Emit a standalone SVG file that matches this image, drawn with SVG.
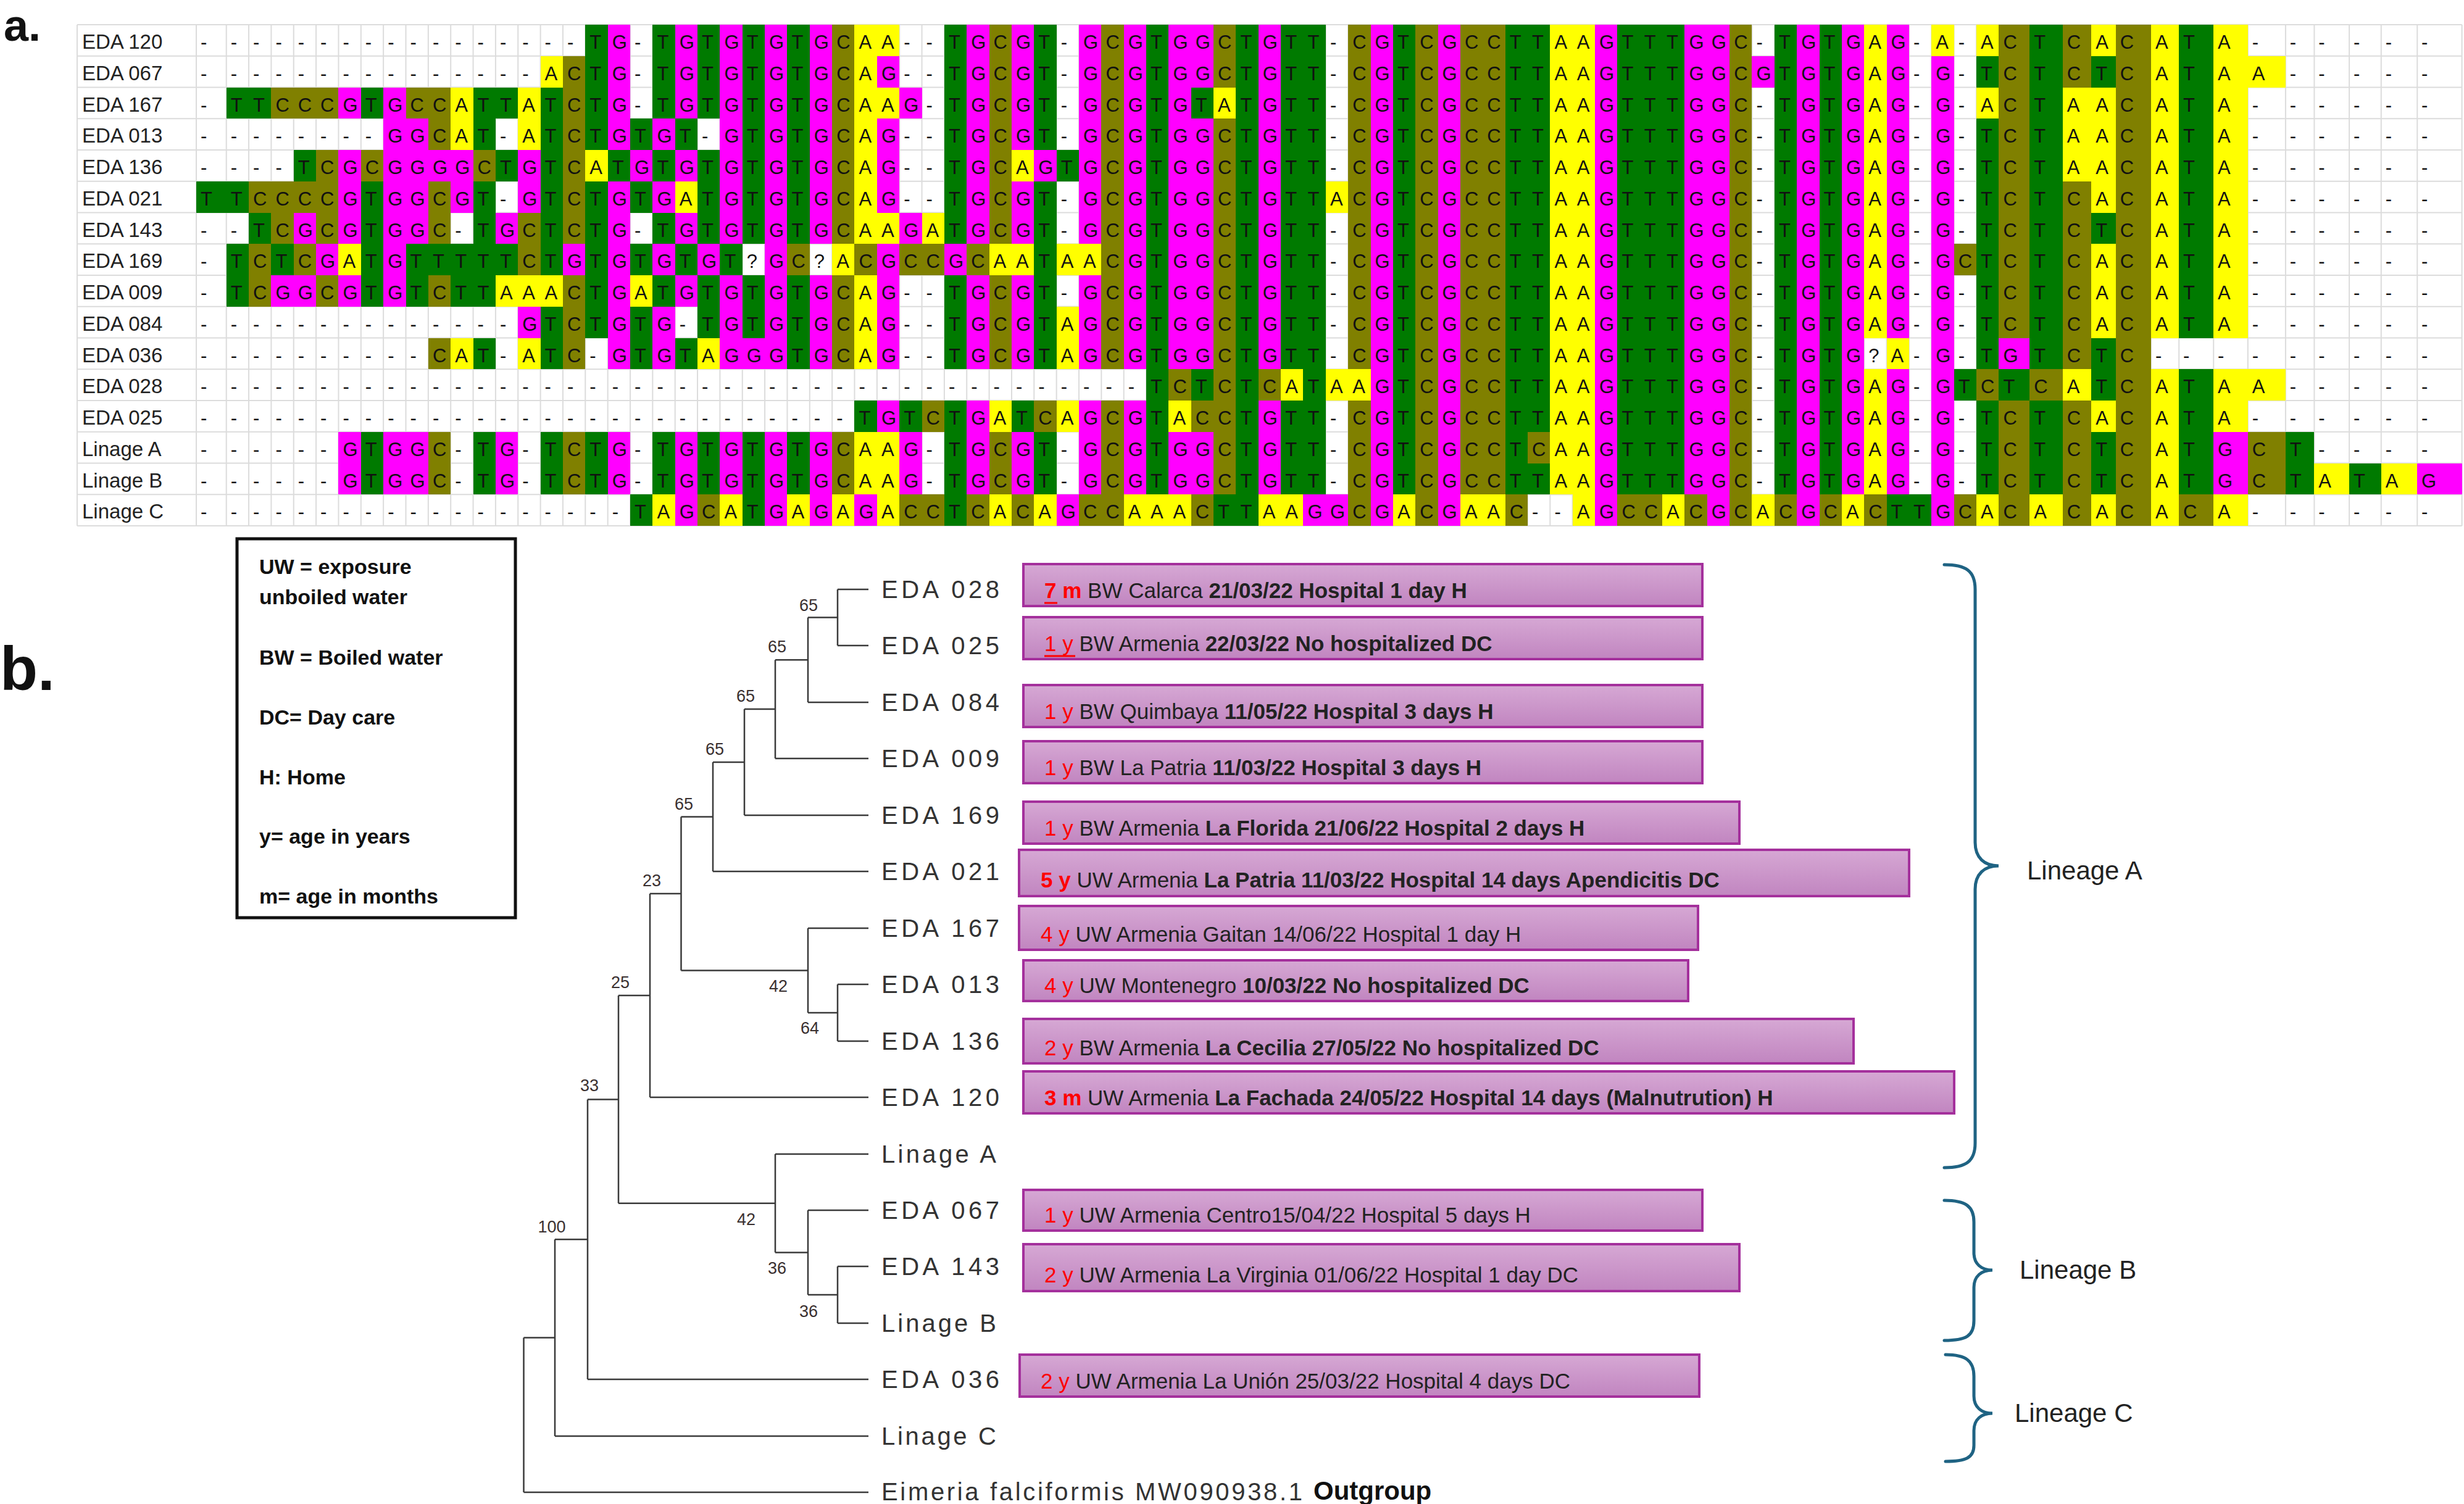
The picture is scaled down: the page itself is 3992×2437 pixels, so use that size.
<svg xmlns="http://www.w3.org/2000/svg" width="3992" height="2437" viewBox="0 0 3992 2437">
<style>
text{font-family:"Liberation Sans",Arial,sans-serif}
.al{font-size:31px;fill:#111}
.lab{font-size:33px;fill:#222}
.leaf{font-size:40px;fill:#333}
.bs{font-size:27px;fill:#3a3030;text-anchor:middle}
.box{fill:url(#pg);stroke:#A4309C;stroke-width:4}
.bt{font-size:35px;fill:#222}
.r{fill:#FF0000}
.b{font-weight:bold}
.leg{font-size:34px;font-weight:bold;fill:#111}
.brace{fill:none;stroke:#1F6383;stroke-width:5;stroke-linecap:round}
.lin{font-size:42px;fill:#222}
.edge{fill:none;stroke:#3a3a3a;stroke-width:2.5}
.cT{stroke:#007A00}.cG{stroke:#FF00FF}.cC{stroke:#808000}.cA{stroke:#FFFF00}
.grid{fill:none;stroke:#DCDCDC;stroke-width:2}
.big{font-weight:bold;fill:#111}
</style>
<defs>
<linearGradient id="pg" x1="0" y1="0" x2="0" y2="1">
<stop offset="0" stop-color="#D6A8D4"/>
<stop offset="1" stop-color="#C185C0"/>
</linearGradient>
</defs>
<rect width="3992" height="2437" fill="#fff"/>
<text class="big" x="6" y="66" font-size="72">a.</text>
<text class="big" x="0" y="1118" font-size="100">b.</text>

<g id="alignment">
<g transform="translate(366.7 40) scale(36.35 50.75)">
<path class="grid" vector-effect="non-scaling-stroke" d="M-6.65 0V16M-1.34 0V16M0 0V16M1 0V16M2 0V16M3 0V16M4 0V16M5 0V16M6 0V16M7 0V16M8 0V16M9 0V16M10 0V16M11 0V16M12 0V16M13 0V16M14 0V16M15 0V16M16 0V16M17 0V16M18 0V16M19 0V16M20 0V16M21 0V16M22 0V16M23 0V16M24 0V16M25 0V16M26 0V16M27 0V16M28 0V16M29 0V16M30 0V16M31 0V16M32 0V16M33 0V16M34 0V16M35 0V16M36 0V16M37 0V16M38 0V16M39 0V16M40 0V16M41 0V16M42 0V16M43 0V16M44 0V16M45 0V16M46 0V16M47 0V16M48 0V16M49 0V16M50 0V16M51 0V16M52 0V16M53 0V16M54 0V16M55 0V16M56 0V16M57 0V16M58 0V16M59 0V16M60 0V16M61 0V16M62 0V16M63 0V16M64 0V16M65 0V16M66 0V16M67 0V16M68 0V16M69 0V16M70 0V16M71 0V16M72 0V16M73 0V16M74 0V16M75 0V16M76 0V16M77 0V16M78 0V16M79 0V16M80.37 0V16M81.84 0V16M83.12 0V16M84.21 0V16M85.78 0V16M87.03 0V16M88.57 0V16M90.1 0V16M91.78 0V16M93.06 0V16M94.62 0V16M96.04 0V16M97.65 0V16M99.64 0V16M-6.65 0H99.64M-6.65 1H99.64M-6.65 2H99.64M-6.65 3H99.64M-6.65 4H99.64M-6.65 5H99.64M-6.65 6H99.64M-6.65 7H99.64M-6.65 8H99.64M-6.65 9H99.64M-6.65 10H99.64M-6.65 11H99.64M-6.65 12H99.64M-6.65 13H99.64M-6.65 14H99.64M-6.65 15H99.64M-6.65 16H99.64"/>
<g fill="none" stroke-width="1" shape-rendering="crispEdges">
<path class="cT" d="M16 .5h1M19 .5h1M21 .5h1M23 .5h1M25 .5h1M32 .5h1M36 .5h1M41 .5h1M45 .5h1M47 .5h2M52 .5h1M57 .5h2M62 .5h3M69 .5h1M71 .5h1M80.37 .5h1.47M87.03 .5h1.54
M16 1.5h1M19 1.5h1M21 1.5h1M23 1.5h1M25 1.5h1M32 1.5h1M36 1.5h1M41 1.5h1M45 1.5h1M47 1.5h2M52 1.5h1M57 1.5h2M62 1.5h3M69 1.5h1M71 1.5h1M78 1.5h1M80.37 1.5h1.47M83.12 1.5h1.09M87.03 1.5h1.54
M0 2.5h2M6 2.5h1M11 2.5h2M14 2.5h1M16 2.5h1M19 2.5h1M21 2.5h1M23 2.5h1M25 2.5h1M32 2.5h1M36 2.5h1M41 2.5h1M43 2.5h1M45 2.5h1M47 2.5h2M52 2.5h1M57 2.5h2M62 2.5h3M69 2.5h1M71 2.5h1M80.37 2.5h1.47M87.03 2.5h1.54
M11 3.5h1M14 3.5h1M16 3.5h1M18 3.5h1M20 3.5h1M23 3.5h1M25 3.5h1M32 3.5h1M36 3.5h1M41 3.5h1M45 3.5h1M47 3.5h2M52 3.5h1M57 3.5h2M62 3.5h3M69 3.5h1M71 3.5h1M78 3.5h1M80.37 3.5h1.47M87.03 3.5h1.54
M3 4.5h1M12 4.5h1M14 4.5h1M17 4.5h1M19 4.5h1M21 4.5h1M23 4.5h1M25 4.5h1M32 4.5h1M37 4.5h1M41 4.5h1M45 4.5h1M47 4.5h2M52 4.5h1M57 4.5h2M62 4.5h3M69 4.5h1M71 4.5h1M78 4.5h1M80.37 4.5h1.47M87.03 4.5h1.54
M-1.34 5.5h2.34M6 5.5h1M11 5.5h1M14 5.5h1M16 5.5h1M18 5.5h1M21 5.5h1M23 5.5h1M25 5.5h1M32 5.5h1M36 5.5h1M41 5.5h1M45 5.5h1M47 5.5h2M52 5.5h1M57 5.5h2M62 5.5h3M69 5.5h1M71 5.5h1M78 5.5h1M80.37 5.5h1.47M87.03 5.5h1.54
M1 6.5h1M6 6.5h1M11 6.5h1M14 6.5h1M16 6.5h1M19 6.5h1M21 6.5h1M23 6.5h1M25 6.5h1M32 6.5h1M36 6.5h1M41 6.5h1M45 6.5h1M47 6.5h2M52 6.5h1M57 6.5h2M62 6.5h3M69 6.5h1M71 6.5h1M78 6.5h1M80.37 6.5h1.47M83.12 6.5h1.09M87.03 6.5h1.54
M0 7.5h1M2 7.5h1M6 7.5h1M8 7.5h5M14 7.5h1M16 7.5h1M18 7.5h1M20 7.5h1M22 7.5h1M36 7.5h1M41 7.5h1M45 7.5h1M47 7.5h2M52 7.5h1M57 7.5h2M62 7.5h3M69 7.5h1M71 7.5h1M78 7.5h1M80.37 7.5h1.47M87.03 7.5h1.54
M0 8.5h1M6 8.5h1M8 8.5h1M10 8.5h2M16 8.5h1M19 8.5h1M21 8.5h1M23 8.5h1M25 8.5h1M32 8.5h1M36 8.5h1M41 8.5h1M45 8.5h1M47 8.5h2M52 8.5h1M57 8.5h2M62 8.5h3M69 8.5h1M71 8.5h1M78 8.5h1M80.37 8.5h1.47M87.03 8.5h1.54
M14 9.5h1M16 9.5h1M18 9.5h1M21 9.5h1M23 9.5h1M25 9.5h1M32 9.5h1M36 9.5h1M41 9.5h1M45 9.5h1M47 9.5h2M52 9.5h1M57 9.5h2M62 9.5h3M69 9.5h1M71 9.5h1M78 9.5h1M80.37 9.5h1.47M87.03 9.5h1.54
M11 10.5h1M14 10.5h1M18 10.5h1M20 10.5h1M25 10.5h1M32 10.5h1M36 10.5h1M41 10.5h1M45 10.5h1M47 10.5h2M52 10.5h1M57 10.5h2M62 10.5h3M69 10.5h1M71 10.5h1M78 10.5h1M80.37 10.5h1.47M83.12 10.5h1.09
M41 11.5h1M43 11.5h1M45 11.5h1M48 11.5h1M52 11.5h1M57 11.5h2M62 11.5h3M69 11.5h1M71 11.5h1M77 11.5h1M79 11.5h1.37M83.12 11.5h1.09M87.03 11.5h1.54
M28 12.5h1M30 12.5h1M32 12.5h1M35 12.5h1M41 12.5h1M45 12.5h1M47 12.5h2M52 12.5h1M57 12.5h2M62 12.5h3M69 12.5h1M71 12.5h1M78 12.5h1M80.37 12.5h1.47M87.03 12.5h1.54
M6 13.5h1M11 13.5h1M14 13.5h1M16 13.5h1M19 13.5h1M21 13.5h1M23 13.5h1M25 13.5h1M32 13.5h1M36 13.5h1M41 13.5h1M45 13.5h1M47 13.5h2M52 13.5h1M57 13.5h1M62 13.5h3M69 13.5h1M71 13.5h1M78 13.5h1M80.37 13.5h1.47M83.12 13.5h1.09M87.03 13.5h1.54M91.78 13.5h1.28
M6 14.5h1M11 14.5h1M14 14.5h1M16 14.5h1M19 14.5h1M21 14.5h1M23 14.5h1M25 14.5h1M32 14.5h1M36 14.5h1M41 14.5h1M45 14.5h1M47 14.5h2M52 14.5h1M57 14.5h2M62 14.5h3M69 14.5h1M71 14.5h1M78 14.5h1M80.37 14.5h1.47M83.12 14.5h1.09M87.03 14.5h1.54M91.78 14.5h1.28M94.62 14.5h1.42
M18 15.5h1M23 15.5h1M32 15.5h1M44 15.5h2M74 15.5h2"/>
<path class="cG" d="M17 .5h1M20 .5h1M22 .5h1M24 .5h1M26 .5h1M33 .5h1M35 .5h1M38 .5h1M40 .5h1M42 .5h2M46 .5h1M51 .5h1M54 .5h1M61 .5h1M65 .5h2M70 .5h1M72 .5h1M74 .5h1
M17 1.5h1M20 1.5h1M22 1.5h1M24 1.5h1M26 1.5h1M29 1.5h1M33 1.5h1M35 1.5h1M38 1.5h1M40 1.5h1M42 1.5h2M46 1.5h1M51 1.5h1M54 1.5h1M61 1.5h1M65 1.5h2M68 1.5h1M70 1.5h1M72 1.5h1M74 1.5h1M76 1.5h1
M5 2.5h1M7 2.5h1M17 2.5h1M20 2.5h1M22 2.5h1M24 2.5h1M26 2.5h1M30 2.5h1M33 2.5h1M35 2.5h1M38 2.5h1M40 2.5h1M42 2.5h1M46 2.5h1M51 2.5h1M54 2.5h1M61 2.5h1M65 2.5h2M70 2.5h1M72 2.5h1M74 2.5h1M76 2.5h1
M7 3.5h2M17 3.5h1M19 3.5h1M22 3.5h1M24 3.5h1M26 3.5h1M29 3.5h1M33 3.5h1M35 3.5h1M38 3.5h1M40 3.5h1M42 3.5h2M46 3.5h1M51 3.5h1M54 3.5h1M61 3.5h1M65 3.5h2M70 3.5h1M72 3.5h1M74 3.5h1M76 3.5h1
M5 4.5h1M7 4.5h4M13 4.5h1M18 4.5h1M20 4.5h1M22 4.5h1M24 4.5h1M26 4.5h1M29 4.5h1M33 4.5h1M36 4.5h1M38 4.5h1M40 4.5h1M42 4.5h2M46 4.5h1M51 4.5h1M54 4.5h1M61 4.5h1M65 4.5h2M70 4.5h1M72 4.5h1M74 4.5h1M76 4.5h1
M5 5.5h1M7 5.5h2M10 5.5h1M13 5.5h1M17 5.5h1M19 5.5h1M22 5.5h1M24 5.5h1M26 5.5h1M29 5.5h1M33 5.5h1M35 5.5h1M38 5.5h1M40 5.5h1M42 5.5h2M46 5.5h1M51 5.5h1M54 5.5h1M61 5.5h1M65 5.5h2M70 5.5h1M72 5.5h1M74 5.5h1M76 5.5h1
M3 6.5h1M5 6.5h1M7 6.5h2M12 6.5h1M17 6.5h1M20 6.5h1M22 6.5h1M24 6.5h1M26 6.5h1M30 6.5h1M33 6.5h1M35 6.5h1M38 6.5h1M40 6.5h1M42 6.5h2M46 6.5h1M51 6.5h1M54 6.5h1M61 6.5h1M65 6.5h2M70 6.5h1M72 6.5h1M74 6.5h1M76 6.5h1
M4 7.5h1M7 7.5h1M15 7.5h1M17 7.5h1M19 7.5h1M21 7.5h1M24 7.5h1M29 7.5h1M32 7.5h1M40 7.5h1M42 7.5h2M46 7.5h1M51 7.5h1M54 7.5h1M61 7.5h1M65 7.5h2M70 7.5h1M72 7.5h1M74 7.5h1M76 7.5h1
M2 8.5h2M5 8.5h1M7 8.5h1M17 8.5h1M20 8.5h1M22 8.5h1M24 8.5h1M26 8.5h1M29 8.5h1M33 8.5h1M35 8.5h1M38 8.5h1M40 8.5h1M42 8.5h2M46 8.5h1M51 8.5h1M54 8.5h1M61 8.5h1M65 8.5h2M70 8.5h1M72 8.5h1M74 8.5h1M76 8.5h1
M13 9.5h1M17 9.5h1M19 9.5h1M22 9.5h1M24 9.5h1M26 9.5h1M29 9.5h1M33 9.5h1M35 9.5h1M38 9.5h1M40 9.5h1M42 9.5h2M46 9.5h1M51 9.5h1M54 9.5h1M61 9.5h1M65 9.5h2M70 9.5h1M72 9.5h1M74 9.5h1M76 9.5h1
M17 10.5h1M19 10.5h1M22 10.5h3M26 10.5h1M29 10.5h1M33 10.5h1M35 10.5h1M38 10.5h1M40 10.5h1M42 10.5h2M46 10.5h1M51 10.5h1M54 10.5h1M61 10.5h1M65 10.5h2M70 10.5h1M72 10.5h1M76 10.5h1M79 10.5h1.37
M51 11.5h1M54 11.5h1M61 11.5h1M65 11.5h2M70 11.5h1M72 11.5h1M74 11.5h1M76 11.5h1
M29 12.5h1M33 12.5h1M38 12.5h1M40 12.5h1M46 12.5h1M51 12.5h1M54 12.5h1M61 12.5h1M65 12.5h2M70 12.5h1M72 12.5h1M74 12.5h1M76 12.5h1
M5 13.5h1M7 13.5h2M12 13.5h1M17 13.5h1M20 13.5h1M22 13.5h1M24 13.5h1M26 13.5h1M30 13.5h1M33 13.5h1M35 13.5h1M38 13.5h1M40 13.5h1M42 13.5h2M46 13.5h1M51 13.5h1M54 13.5h1M61 13.5h1M65 13.5h2M70 13.5h1M72 13.5h1M74 13.5h1M76 13.5h1M88.57 13.5h1.53
M5 14.5h1M7 14.5h2M12 14.5h1M17 14.5h1M20 14.5h1M22 14.5h1M24 14.5h1M26 14.5h1M30 14.5h1M33 14.5h1M35 14.5h1M38 14.5h1M40 14.5h1M42 14.5h2M46 14.5h1M51 14.5h1M54 14.5h1M61 14.5h1M65 14.5h2M70 14.5h1M72 14.5h1M74 14.5h1M76 14.5h1M88.57 14.5h1.53M97.65 14.5h1.99
M20 15.5h1M24 15.5h1M26 15.5h1M28 15.5h1M37 15.5h1M48 15.5h2M51 15.5h1M54 15.5h1M61 15.5h1M66 15.5h1M70 15.5h1M76 15.5h1"/>
<path class="cC" d="M27 .5h1M34 .5h1M39 .5h1M44 .5h1M50 .5h1M53 .5h1M55 .5h2M67 .5h1M79 .5h1.37M81.84 .5h1.28M84.21 .5h1.57
M15 1.5h1M27 1.5h1M34 1.5h1M39 1.5h1M44 1.5h1M50 1.5h1M53 1.5h1M55 1.5h2M67 1.5h1M79 1.5h1.37M81.84 1.5h1.28M84.21 1.5h1.57
M2 2.5h3M8 2.5h2M15 2.5h1M27 2.5h1M34 2.5h1M39 2.5h1M50 2.5h1M53 2.5h1M55 2.5h2M67 2.5h1M79 2.5h1.37M84.21 2.5h1.57
M9 3.5h1M15 3.5h1M27 3.5h1M34 3.5h1M39 3.5h1M44 3.5h1M50 3.5h1M53 3.5h1M55 3.5h2M67 3.5h1M79 3.5h1.37M84.21 3.5h1.57
M4 4.5h1M6 4.5h1M11 4.5h1M15 4.5h1M27 4.5h1M34 4.5h1M39 4.5h1M44 4.5h1M50 4.5h1M53 4.5h1M55 4.5h2M67 4.5h1M79 4.5h1.37M84.21 4.5h1.57
M1 5.5h4M9 5.5h1M15 5.5h1M27 5.5h1M34 5.5h1M39 5.5h1M44 5.5h1M50 5.5h1M53 5.5h1M55 5.5h2M67 5.5h1M79 5.5h1.37M81.84 5.5h1.28M84.21 5.5h1.57
M2 6.5h1M4 6.5h1M9 6.5h1M13 6.5h1M15 6.5h1M27 6.5h1M34 6.5h1M39 6.5h1M44 6.5h1M50 6.5h1M53 6.5h1M55 6.5h2M67 6.5h1M79 6.5h1.37M81.84 6.5h1.28M84.21 6.5h1.57
M1 7.5h1M3 7.5h1M13 7.5h1M25 7.5h1M28 7.5h1M30 7.5h2M33 7.5h1M39 7.5h1M44 7.5h1M50 7.5h1M53 7.5h1M55 7.5h2M67 7.5h1M77 7.5h1M79 7.5h1.37M81.84 7.5h1.28M84.21 7.5h1.57
M1 8.5h1M4 8.5h1M9 8.5h1M15 8.5h1M27 8.5h1M34 8.5h1M39 8.5h1M44 8.5h1M50 8.5h1M53 8.5h1M55 8.5h2M67 8.5h1M79 8.5h1.37M81.84 8.5h1.28M84.21 8.5h1.57
M15 9.5h1M27 9.5h1M34 9.5h1M39 9.5h1M44 9.5h1M50 9.5h1M53 9.5h1M55 9.5h2M67 9.5h1M79 9.5h1.37M81.84 9.5h1.28M84.21 9.5h1.57
M9 10.5h1M15 10.5h1M27 10.5h1M34 10.5h1M39 10.5h1M44 10.5h1M50 10.5h1M53 10.5h1M55 10.5h2M67 10.5h1M81.84 10.5h1.28M84.21 10.5h1.57
M42 11.5h1M44 11.5h1M46 11.5h1M53 11.5h1M55 11.5h2M67 11.5h1M78 11.5h1M80.37 11.5h1.47M84.21 11.5h1.57
M31 12.5h1M36 12.5h1M39 12.5h1M43 12.5h2M50 12.5h1M53 12.5h1M55 12.5h2M67 12.5h1M79 12.5h1.37M81.84 12.5h1.28M84.21 12.5h1.57
M9 13.5h1M15 13.5h1M27 13.5h1M34 13.5h1M39 13.5h1M44 13.5h1M50 13.5h1M53 13.5h1M55 13.5h2M58 13.5h1M67 13.5h1M79 13.5h1.37M81.84 13.5h1.28M84.21 13.5h1.57M90.1 13.5h1.68
M9 14.5h1M15 14.5h1M27 14.5h1M34 14.5h1M39 14.5h1M44 14.5h1M50 14.5h1M53 14.5h1M55 14.5h2M67 14.5h1M79 14.5h1.37M81.84 14.5h1.28M84.21 14.5h1.57M90.1 14.5h1.68
M21 15.5h1M30 15.5h2M33 15.5h1M35 15.5h1M38 15.5h2M43 15.5h1M50 15.5h1M53 15.5h1M57 15.5h1M62 15.5h2M65 15.5h1M67 15.5h1M69 15.5h1M71 15.5h1M73 15.5h1M77 15.5h1M79 15.5h1.37M81.84 15.5h1.28M84.21 15.5h1.57M87.03 15.5h1.54"/>
<path class="cA" d="M28 .5h2M59 .5h2M73 .5h1M76 .5h1M78 .5h1M83.12 .5h1.09M85.78 .5h1.25M88.57 .5h1.53
M14 1.5h1M28 1.5h1M59 1.5h2M73 1.5h1M85.78 1.5h1.25M88.57 1.5h3.21
M10 2.5h1M13 2.5h1M28 2.5h2M44 2.5h1M59 2.5h2M73 2.5h1M78 2.5h1M81.84 2.5h2.37M85.78 2.5h1.25M88.57 2.5h1.53
M10 3.5h1M13 3.5h1M28 3.5h1M59 3.5h2M73 3.5h1M81.84 3.5h2.37M85.78 3.5h1.25M88.57 3.5h1.53
M16 4.5h1M28 4.5h1M35 4.5h1M59 4.5h2M73 4.5h1M81.84 4.5h2.37M85.78 4.5h1.25M88.57 4.5h1.53
M20 5.5h1M28 5.5h1M49 5.5h1M59 5.5h2M73 5.5h1M83.12 5.5h1.09M85.78 5.5h1.25M88.57 5.5h1.53
M28 6.5h2M31 6.5h1M59 6.5h2M73 6.5h1M85.78 6.5h1.25M88.57 6.5h1.53
M5 7.5h1M27 7.5h1M34 7.5h2M37 7.5h2M59 7.5h2M73 7.5h1M83.12 7.5h1.09M85.78 7.5h1.25M88.57 7.5h1.53
M12 8.5h3M18 8.5h1M28 8.5h1M59 8.5h2M73 8.5h1M83.12 8.5h1.09M85.78 8.5h1.25M88.57 8.5h1.53
M28 9.5h1M37 9.5h1M59 9.5h2M73 9.5h1M83.12 9.5h1.09M85.78 9.5h1.25M88.57 9.5h1.53
M10 10.5h1M13 10.5h1M21 10.5h1M28 10.5h1M37 10.5h1M59 10.5h2M74 10.5h1
M47 11.5h1M49 11.5h2M59 11.5h2M73 11.5h1M81.84 11.5h1.28M85.78 11.5h1.25M88.57 11.5h3.21
M34 12.5h1M37 12.5h1M42 12.5h1M59 12.5h2M73 12.5h1M83.12 12.5h1.09M85.78 12.5h1.25M88.57 12.5h1.53
M28 13.5h2M59 13.5h2M73 13.5h1M85.78 13.5h1.25
M28 14.5h2M59 14.5h2M73 14.5h1M85.78 14.5h1.25M93.06 14.5h1.56M96.04 14.5h1.61
M19 15.5h1M22 15.5h1M25 15.5h1M27 15.5h1M29 15.5h1M34 15.5h1M36 15.5h1M40 15.5h3M46 15.5h2M52 15.5h1M55 15.5h2M60 15.5h1M64 15.5h1M68 15.5h1M72 15.5h1M78 15.5h1M80.37 15.5h1.47M83.12 15.5h1.09M85.78 15.5h1.25M88.57 15.5h1.53"/>
</g>
</g>
<g class="lab">
<text x="133" y="79">EDA 120</text>
<text x="133" y="129.75">EDA 067</text>
<text x="133" y="180.5">EDA 167</text>
<text x="133" y="231.25">EDA 013</text>
<text x="133" y="282">EDA 136</text>
<text x="133" y="332.75">EDA 021</text>
<text x="133" y="383.5">EDA 143</text>
<text x="133" y="434.25">EDA 169</text>
<text x="133" y="485">EDA 009</text>
<text x="133" y="535.75">EDA 084</text>
<text x="133" y="586.5">EDA 036</text>
<text x="133" y="637.25">EDA 028</text>
<text x="133" y="688">EDA 025</text>
<text x="133" y="738.75">Linage A</text>
<text x="133" y="789.5">Linage B</text>
<text x="133" y="840.25">Linage C</text>
</g>
<g class="al">
<text y="79" x="325 373.7 410.1 446.4 482.8 519.1 555.5 591.8 628.2 664.5 700.9 737.2 773.6 809.9 846.3 882.6 919 955.3 991.7 1028 1064.4 1100.7 1137.1 1173.4 1209.8 1246.1 1282.5 1318.8 1355.2 1391.5 1427.9 1464.2 1500.6 1536.9 1573.3 1609.6 1646 1682.3 1718.7 1755 1791.4 1827.7 1864.1 1900.4 1936.8 1973.1 2009.5 2045.8 2082.2 2118.5 2154.9 2191.2 2227.6 2263.9 2300.3 2336.6 2373 2409.3 2445.7 2482 2518.4 2554.7 2591.1 2627.4 2663.8 2700.1 2736.5 2772.8 2809.2 2845.5 2881.9 2918.2 2954.6 2990.9 3027.3 3063.6 3100 3136.3 3172.7 3209 3245.4 3295.3 3348.7 3395.3 3434.7 3492 3537 3593 3648.7 3709.7 3756.3 3813 3864.7 3923">-----------------TG-TGTGTGTGCAA--TGCGT-GCGTGGCTGTT-CGTCGCCTTAAGTTTGGC-TGTGAG-A-ACTCACATA------</text>
<text y="129.75" x="325 373.7 410.1 446.4 482.8 519.1 555.5 591.8 628.2 664.5 700.9 737.2 773.6 809.9 846.3 882.6 919 955.3 991.7 1028 1064.4 1100.7 1137.1 1173.4 1209.8 1246.1 1282.5 1318.8 1355.2 1391.5 1427.9 1464.2 1500.6 1536.9 1573.3 1609.6 1646 1682.3 1718.7 1755 1791.4 1827.7 1864.1 1900.4 1936.8 1973.1 2009.5 2045.8 2082.2 2118.5 2154.9 2191.2 2227.6 2263.9 2300.3 2336.6 2373 2409.3 2445.7 2482 2518.4 2554.7 2591.1 2627.4 2663.8 2700.1 2736.5 2772.8 2809.2 2845.5 2881.9 2918.2 2954.6 2990.9 3027.3 3063.6 3100 3136.3 3172.7 3209 3245.4 3295.3 3348.7 3395.3 3434.7 3492 3537 3593 3648.7 3709.7 3756.3 3813 3864.7 3923">---------------ACTG-TGTGTGTGCAG--TGCGT-GCGTGGCTGTT-CGTCGCCTTAAGTTTGGCGTGTGAG-G-TCTCTCATAA-----</text>
<text y="180.5" x="325 373.7 410.1 446.4 482.8 519.1 555.5 591.8 628.2 664.5 700.9 737.2 773.6 809.9 846.3 882.6 919 955.3 991.7 1028 1064.4 1100.7 1137.1 1173.4 1209.8 1246.1 1282.5 1318.8 1355.2 1391.5 1427.9 1464.2 1500.6 1536.9 1573.3 1609.6 1646 1682.3 1718.7 1755 1791.4 1827.7 1864.1 1900.4 1936.8 1973.1 2009.5 2045.8 2082.2 2118.5 2154.9 2191.2 2227.6 2263.9 2300.3 2336.6 2373 2409.3 2445.7 2482 2518.4 2554.7 2591.1 2627.4 2663.8 2700.1 2736.5 2772.8 2809.2 2845.5 2881.9 2918.2 2954.6 2990.9 3027.3 3063.6 3100 3136.3 3172.7 3209 3245.4 3295.3 3348.7 3395.3 3434.7 3492 3537 3593 3648.7 3709.7 3756.3 3813 3864.7 3923">-TTCCCGTGCCATTATCTG-TGTGTGTGCAAG-TGCGT-GCGTGTATGTT-CGTCGCCTTAAGTTTGGC-TGTGAG-G-ACTAACATA------</text>
<text y="231.25" x="325 373.7 410.1 446.4 482.8 519.1 555.5 591.8 628.2 664.5 700.9 737.2 773.6 809.9 846.3 882.6 919 955.3 991.7 1028 1064.4 1100.7 1137.1 1173.4 1209.8 1246.1 1282.5 1318.8 1355.2 1391.5 1427.9 1464.2 1500.6 1536.9 1573.3 1609.6 1646 1682.3 1718.7 1755 1791.4 1827.7 1864.1 1900.4 1936.8 1973.1 2009.5 2045.8 2082.2 2118.5 2154.9 2191.2 2227.6 2263.9 2300.3 2336.6 2373 2409.3 2445.7 2482 2518.4 2554.7 2591.1 2627.4 2663.8 2700.1 2736.5 2772.8 2809.2 2845.5 2881.9 2918.2 2954.6 2990.9 3027.3 3063.6 3100 3136.3 3172.7 3209 3245.4 3295.3 3348.7 3395.3 3434.7 3492 3537 3593 3648.7 3709.7 3756.3 3813 3864.7 3923">--------GGCAT-ATCTGTGT-GTGTGCAG--TGCGT-GCGTGGCTGTT-CGTCGCCTTAAGTTTGGC-TGTGAG-G-TCTAACATA------</text>
<text y="282" x="325 373.7 410.1 446.4 482.8 519.1 555.5 591.8 628.2 664.5 700.9 737.2 773.6 809.9 846.3 882.6 919 955.3 991.7 1028 1064.4 1100.7 1137.1 1173.4 1209.8 1246.1 1282.5 1318.8 1355.2 1391.5 1427.9 1464.2 1500.6 1536.9 1573.3 1609.6 1646 1682.3 1718.7 1755 1791.4 1827.7 1864.1 1900.4 1936.8 1973.1 2009.5 2045.8 2082.2 2118.5 2154.9 2191.2 2227.6 2263.9 2300.3 2336.6 2373 2409.3 2445.7 2482 2518.4 2554.7 2591.1 2627.4 2663.8 2700.1 2736.5 2772.8 2809.2 2845.5 2881.9 2918.2 2954.6 2990.9 3027.3 3063.6 3100 3136.3 3172.7 3209 3245.4 3295.3 3348.7 3395.3 3434.7 3492 3537 3593 3648.7 3709.7 3756.3 3813 3864.7 3923">----TCGCGGGGCTGTCATGTGTGTGTGCAG--TGCAGTGCGTGGCTGTT-CGTCGCCTTAAGTTTGGC-TGTGAG-G-TCTAACATA------</text>
<text y="332.75" x="325 373.7 410.1 446.4 482.8 519.1 555.5 591.8 628.2 664.5 700.9 737.2 773.6 809.9 846.3 882.6 919 955.3 991.7 1028 1064.4 1100.7 1137.1 1173.4 1209.8 1246.1 1282.5 1318.8 1355.2 1391.5 1427.9 1464.2 1500.6 1536.9 1573.3 1609.6 1646 1682.3 1718.7 1755 1791.4 1827.7 1864.1 1900.4 1936.8 1973.1 2009.5 2045.8 2082.2 2118.5 2154.9 2191.2 2227.6 2263.9 2300.3 2336.6 2373 2409.3 2445.7 2482 2518.4 2554.7 2591.1 2627.4 2663.8 2700.1 2736.5 2772.8 2809.2 2845.5 2881.9 2918.2 2954.6 2990.9 3027.3 3063.6 3100 3136.3 3172.7 3209 3245.4 3295.3 3348.7 3395.3 3434.7 3492 3537 3593 3648.7 3709.7 3756.3 3813 3864.7 3923">TTCCCCGTGGCGT-GTCTGTGATGTGTGCAG--TGCGT-GCGTGGCTGTTACGTCGCCTTAAGTTTGGC-TGTGAG-G-TCTCACATA------</text>
<text y="383.5" x="325 373.7 410.1 446.4 482.8 519.1 555.5 591.8 628.2 664.5 700.9 737.2 773.6 809.9 846.3 882.6 919 955.3 991.7 1028 1064.4 1100.7 1137.1 1173.4 1209.8 1246.1 1282.5 1318.8 1355.2 1391.5 1427.9 1464.2 1500.6 1536.9 1573.3 1609.6 1646 1682.3 1718.7 1755 1791.4 1827.7 1864.1 1900.4 1936.8 1973.1 2009.5 2045.8 2082.2 2118.5 2154.9 2191.2 2227.6 2263.9 2300.3 2336.6 2373 2409.3 2445.7 2482 2518.4 2554.7 2591.1 2627.4 2663.8 2700.1 2736.5 2772.8 2809.2 2845.5 2881.9 2918.2 2954.6 2990.9 3027.3 3063.6 3100 3136.3 3172.7 3209 3245.4 3295.3 3348.7 3395.3 3434.7 3492 3537 3593 3648.7 3709.7 3756.3 3813 3864.7 3923">--TCGCGTGGC-TGCTCTG-TGTGTGTGCAAGATGCGT-GCGTGGCTGTT-CGTCGCCTTAAGTTTGGC-TGTGAG-G-TCTCTCATA------</text>
<text y="434.25" x="325 373.7 410.1 446.4 482.8 519.1 555.5 591.8 628.2 664.5 700.9 737.2 773.6 809.9 846.3 882.6 919 955.3 991.7 1028 1064.4 1100.7 1137.1 1173.4 1209.8 1246.1 1282.5 1318.8 1355.2 1391.5 1427.9 1464.2 1500.6 1536.9 1573.3 1609.6 1646 1682.3 1718.7 1755 1791.4 1827.7 1864.1 1900.4 1936.8 1973.1 2009.5 2045.8 2082.2 2118.5 2154.9 2191.2 2227.6 2263.9 2300.3 2336.6 2373 2409.3 2445.7 2482 2518.4 2554.7 2591.1 2627.4 2663.8 2700.1 2736.5 2772.8 2809.2 2845.5 2881.9 2918.2 2954.6 2990.9 3027.3 3063.6 3100 3136.3 3172.7 3209 3245.4 3295.3 3348.7 3395.3 3434.7 3492 3537 3593 3648.7 3709.7 3756.3 3813 3864.7 3923">-TCTCGATGTTTTTCTGTGTGTGT?GC?ACGCCGCAATAACGTGGCTGTT-CGTCGCCTTAAGTTTGGC-TGTGAG-GCTCTCACATA------</text>
<text y="485" x="325 373.7 410.1 446.4 482.8 519.1 555.5 591.8 628.2 664.5 700.9 737.2 773.6 809.9 846.3 882.6 919 955.3 991.7 1028 1064.4 1100.7 1137.1 1173.4 1209.8 1246.1 1282.5 1318.8 1355.2 1391.5 1427.9 1464.2 1500.6 1536.9 1573.3 1609.6 1646 1682.3 1718.7 1755 1791.4 1827.7 1864.1 1900.4 1936.8 1973.1 2009.5 2045.8 2082.2 2118.5 2154.9 2191.2 2227.6 2263.9 2300.3 2336.6 2373 2409.3 2445.7 2482 2518.4 2554.7 2591.1 2627.4 2663.8 2700.1 2736.5 2772.8 2809.2 2845.5 2881.9 2918.2 2954.6 2990.9 3027.3 3063.6 3100 3136.3 3172.7 3209 3245.4 3295.3 3348.7 3395.3 3434.7 3492 3537 3593 3648.7 3709.7 3756.3 3813 3864.7 3923">-TCGGCGTGTCTTAAACTGATGTGTGTGCAG--TGCGT-GCGTGGCTGTT-CGTCGCCTTAAGTTTGGC-TGTGAG-G-TCTCACATA------</text>
<text y="535.75" x="325 373.7 410.1 446.4 482.8 519.1 555.5 591.8 628.2 664.5 700.9 737.2 773.6 809.9 846.3 882.6 919 955.3 991.7 1028 1064.4 1100.7 1137.1 1173.4 1209.8 1246.1 1282.5 1318.8 1355.2 1391.5 1427.9 1464.2 1500.6 1536.9 1573.3 1609.6 1646 1682.3 1718.7 1755 1791.4 1827.7 1864.1 1900.4 1936.8 1973.1 2009.5 2045.8 2082.2 2118.5 2154.9 2191.2 2227.6 2263.9 2300.3 2336.6 2373 2409.3 2445.7 2482 2518.4 2554.7 2591.1 2627.4 2663.8 2700.1 2736.5 2772.8 2809.2 2845.5 2881.9 2918.2 2954.6 2990.9 3027.3 3063.6 3100 3136.3 3172.7 3209 3245.4 3295.3 3348.7 3395.3 3434.7 3492 3537 3593 3648.7 3709.7 3756.3 3813 3864.7 3923">--------------GTCTGTG-TGTGTGCAG--TGCGTAGCGTGGCTGTT-CGTCGCCTTAAGTTTGGC-TGTGAG-G-TCTCACATA------</text>
<text y="586.5" x="325 373.7 410.1 446.4 482.8 519.1 555.5 591.8 628.2 664.5 700.9 737.2 773.6 809.9 846.3 882.6 919 955.3 991.7 1028 1064.4 1100.7 1137.1 1173.4 1209.8 1246.1 1282.5 1318.8 1355.2 1391.5 1427.9 1464.2 1500.6 1536.9 1573.3 1609.6 1646 1682.3 1718.7 1755 1791.4 1827.7 1864.1 1900.4 1936.8 1973.1 2009.5 2045.8 2082.2 2118.5 2154.9 2191.2 2227.6 2263.9 2300.3 2336.6 2373 2409.3 2445.7 2482 2518.4 2554.7 2591.1 2627.4 2663.8 2700.1 2736.5 2772.8 2809.2 2845.5 2881.9 2918.2 2954.6 2990.9 3027.3 3063.6 3100 3136.3 3172.7 3209 3245.4 3295.3 3348.7 3395.3 3434.7 3492 3537 3593 3648.7 3709.7 3756.3 3813 3864.7 3923">----------CAT-ATC-GTGTAGGGTGCAG--TGCGTAGCGTGGCTGTT-CGTCGCCTTAAGTTTGGC-TGTG?A-G-TGTCTC---------</text>
<text y="637.25" x="325 373.7 410.1 446.4 482.8 519.1 555.5 591.8 628.2 664.5 700.9 737.2 773.6 809.9 846.3 882.6 919 955.3 991.7 1028 1064.4 1100.7 1137.1 1173.4 1209.8 1246.1 1282.5 1318.8 1355.2 1391.5 1427.9 1464.2 1500.6 1536.9 1573.3 1609.6 1646 1682.3 1718.7 1755 1791.4 1827.7 1864.1 1900.4 1936.8 1973.1 2009.5 2045.8 2082.2 2118.5 2154.9 2191.2 2227.6 2263.9 2300.3 2336.6 2373 2409.3 2445.7 2482 2518.4 2554.7 2591.1 2627.4 2663.8 2700.1 2736.5 2772.8 2809.2 2845.5 2881.9 2918.2 2954.6 2990.9 3027.3 3063.6 3100 3136.3 3172.7 3209 3245.4 3295.3 3348.7 3395.3 3434.7 3492 3537 3593 3648.7 3709.7 3756.3 3813 3864.7 3923">------------------------------------------TCTCTCATAAGTCGCCTTAAGTTTGGC-TGTGAG-GTCTCATCATAA-----</text>
<text y="688" x="325 373.7 410.1 446.4 482.8 519.1 555.5 591.8 628.2 664.5 700.9 737.2 773.6 809.9 846.3 882.6 919 955.3 991.7 1028 1064.4 1100.7 1137.1 1173.4 1209.8 1246.1 1282.5 1318.8 1355.2 1391.5 1427.9 1464.2 1500.6 1536.9 1573.3 1609.6 1646 1682.3 1718.7 1755 1791.4 1827.7 1864.1 1900.4 1936.8 1973.1 2009.5 2045.8 2082.2 2118.5 2154.9 2191.2 2227.6 2263.9 2300.3 2336.6 2373 2409.3 2445.7 2482 2518.4 2554.7 2591.1 2627.4 2663.8 2700.1 2736.5 2772.8 2809.2 2845.5 2881.9 2918.2 2954.6 2990.9 3027.3 3063.6 3100 3136.3 3172.7 3209 3245.4 3295.3 3348.7 3395.3 3434.7 3492 3537 3593 3648.7 3709.7 3756.3 3813 3864.7 3923">-----------------------------TGTCTGATCAGCGTACCTGTT-CGTCGCCTTAAGTTTGGC-TGTGAG-G-TCTCACATA------</text>
<text y="738.75" x="325 373.7 410.1 446.4 482.8 519.1 555.5 591.8 628.2 664.5 700.9 737.2 773.6 809.9 846.3 882.6 919 955.3 991.7 1028 1064.4 1100.7 1137.1 1173.4 1209.8 1246.1 1282.5 1318.8 1355.2 1391.5 1427.9 1464.2 1500.6 1536.9 1573.3 1609.6 1646 1682.3 1718.7 1755 1791.4 1827.7 1864.1 1900.4 1936.8 1973.1 2009.5 2045.8 2082.2 2118.5 2154.9 2191.2 2227.6 2263.9 2300.3 2336.6 2373 2409.3 2445.7 2482 2518.4 2554.7 2591.1 2627.4 2663.8 2700.1 2736.5 2772.8 2809.2 2845.5 2881.9 2918.2 2954.6 2990.9 3027.3 3063.6 3100 3136.3 3172.7 3209 3245.4 3295.3 3348.7 3395.3 3434.7 3492 3537 3593 3648.7 3709.7 3756.3 3813 3864.7 3923">------GTGGC-TG-TCTG-TGTGTGTGCAAG-TGCGT-GCGTGGCTGTT-CGTCGCCTCAAGTTTGGC-TGTGAG-G-TCTCTCATGCT----</text>
<text y="789.5" x="325 373.7 410.1 446.4 482.8 519.1 555.5 591.8 628.2 664.5 700.9 737.2 773.6 809.9 846.3 882.6 919 955.3 991.7 1028 1064.4 1100.7 1137.1 1173.4 1209.8 1246.1 1282.5 1318.8 1355.2 1391.5 1427.9 1464.2 1500.6 1536.9 1573.3 1609.6 1646 1682.3 1718.7 1755 1791.4 1827.7 1864.1 1900.4 1936.8 1973.1 2009.5 2045.8 2082.2 2118.5 2154.9 2191.2 2227.6 2263.9 2300.3 2336.6 2373 2409.3 2445.7 2482 2518.4 2554.7 2591.1 2627.4 2663.8 2700.1 2736.5 2772.8 2809.2 2845.5 2881.9 2918.2 2954.6 2990.9 3027.3 3063.6 3100 3136.3 3172.7 3209 3245.4 3295.3 3348.7 3395.3 3434.7 3492 3537 3593 3648.7 3709.7 3756.3 3813 3864.7 3923">------GTGGC-TG-TCTG-TGTGTGTGCAAG-TGCGT-GCGTGGCTGTT-CGTCGCCTTAAGTTTGGC-TGTGAG-G-TCTCTCATGCTATAG</text>
<text y="840.25" x="325 373.7 410.1 446.4 482.8 519.1 555.5 591.8 628.2 664.5 700.9 737.2 773.6 809.9 846.3 882.6 919 955.3 991.7 1028 1064.4 1100.7 1137.1 1173.4 1209.8 1246.1 1282.5 1318.8 1355.2 1391.5 1427.9 1464.2 1500.6 1536.9 1573.3 1609.6 1646 1682.3 1718.7 1755 1791.4 1827.7 1864.1 1900.4 1936.8 1973.1 2009.5 2045.8 2082.2 2118.5 2154.9 2191.2 2227.6 2263.9 2300.3 2336.6 2373 2409.3 2445.7 2482 2518.4 2554.7 2591.1 2627.4 2663.8 2700.1 2736.5 2772.8 2809.2 2845.5 2881.9 2918.2 2954.6 2990.9 3027.3 3063.6 3100 3136.3 3172.7 3209 3245.4 3295.3 3348.7 3395.3 3434.7 3492 3537 3593 3648.7 3709.7 3756.3 3813 3864.7 3923">-------------------TAGCATGAGAGACCTCACAGCCAAACTTAAGGCGACGAAC--AGCCACGCACGCACTTGCACACACACA------</text>
</g>
</g>

<g id="legend">
<rect x="384" y="873" width="451" height="614" fill="#fff" stroke="#111" stroke-width="5"/>
<text class="leg" x="420" y="930">UW = exposure</text>
<text class="leg" x="420" y="979">unboiled water</text>
<text class="leg" x="420" y="1077">BW = Boiled water</text>
<text class="leg" x="420" y="1174">DC= Day care</text>
<text class="leg" x="420" y="1271">H: Home</text>
<text class="leg" x="420" y="1367">y= age in years</text>
<text class="leg" x="420" y="1464">m= age in months</text>
</g>

<g id="edges" class="edge">
<path d="M1357 955H1407M1357 1046H1407M1357 955V1046M1309 1000.5H1357M1309 1138H1407M1309 1000.5V1138M1256 1069.25H1309M1256 1229H1407M1256 1069.25V1229M1206 1149.1H1256M1206 1321H1407M1206 1149.1V1321M1155 1235H1206M1155 1412H1407M1155 1235V1412M1103.5 1323.5H1155"/>
<path d="M1309 1504H1407M1357 1595H1407M1357 1687H1407M1357 1595V1687M1309 1641H1357M1309 1504V1641M1103.5 1572.5H1309M1103.5 1323.5V1572.5M1053 1448H1103.5M1053 1778H1407M1053 1448V1778M1002 1613H1053"/>
<path d="M1256 1870H1407M1309 1961H1407M1357 2052H1407M1357 2144H1407M1357 2052V2144M1309 2098H1357M1309 1961V2098M1256 2029.5H1309M1256 1870V2029.5M1002 1949.75H1256M1002 1613V1949.75"/>
<path d="M952 1781.4H1002M952 2235H1407M952 1781.4V2235M899 2008.2H952M899 2327H1407M899 2008.2V2327M848.5 2167.6H899M848.5 2418H1407M848.5 2167.6V2418"/>
</g>

<g id="bootstrap" class="bs">
<text x="1310" y="990">65</text>
<text x="1259" y="1057">65</text>
<text x="1208" y="1137">65</text>
<text x="1158" y="1223">65</text>
<text x="1108" y="1312">65</text>
<text x="1056" y="1436">23</text>
<text x="1261" y="1607">42</text>
<text x="1312" y="1675">64</text>
<text x="1005" y="1601">25</text>
<text x="955" y="1768">33</text>
<text x="1209" y="1985">42</text>
<text x="1259" y="2064">36</text>
<text x="1310" y="2134">36</text>
<text x="894" y="1997">100</text>
</g>

<g id="n-eda028"><text class="leaf" x="1428" y="969" textLength="191" lengthAdjust="spacing">EDA 028</text>
<rect class="box" x="1658" y="914" width="1100" height="68"/>
<text class="bt" x="1692" y="969"><tspan class="r b">7 m</tspan> BW Calarca <tspan class="b">21/03/22 Hospital 1 day H</tspan></text>
<path d="M1692 977H1713" stroke="#FF0000" stroke-width="3"/></g>
<g id="n-eda025"><text class="leaf" x="1428" y="1060" textLength="191" lengthAdjust="spacing">EDA 025</text>
<rect class="box" x="1658" y="1000" width="1100" height="68"/>
<text class="bt" x="1692" y="1055"><tspan class="r">1 y</tspan> BW Armenia <tspan class="b">22/03/22 No hospitalized DC</tspan></text>
<path d="M1692 1063H1742" stroke="#FF0000" stroke-width="3"/></g>
<g id="n-eda084"><text class="leaf" x="1428" y="1152" textLength="191" lengthAdjust="spacing">EDA 084</text>
<rect class="box" x="1658" y="1110" width="1100" height="68"/>
<text class="bt" x="1692" y="1165"><tspan class="r">1 y</tspan> BW Quimbaya <tspan class="b">11/05/22 Hospital 3 days H</tspan></text></g>
<g id="n-eda009"><text class="leaf" x="1428" y="1243" textLength="191" lengthAdjust="spacing">EDA 009</text>
<rect class="box" x="1658" y="1201" width="1100" height="68"/>
<text class="bt" x="1692" y="1256"><tspan class="r">1 y</tspan> BW La Patria <tspan class="b">11/03/22 Hospital 3 days H</tspan></text></g>
<g id="n-eda169"><text class="leaf" x="1428" y="1335" textLength="191" lengthAdjust="spacing">EDA 169</text>
<rect class="box" x="1658" y="1299" width="1160" height="68"/>
<text class="bt" x="1692" y="1354"><tspan class="r">1 y</tspan> BW Armenia <tspan class="b">La Florida 21/06/22 Hospital 2 days H</tspan></text></g>
<g id="n-eda021"><text class="leaf" x="1428" y="1426" textLength="191" lengthAdjust="spacing">EDA 021</text>
<rect class="box" x="1651" y="1377" width="1442" height="75"/>
<text class="bt" x="1686" y="1438"><tspan class="r b">5 y</tspan> UW Armenia <tspan class="b">La Patria 11/03/22 Hospital 14 days Apendicitis DC</tspan></text></g>
<g id="n-eda167"><text class="leaf" x="1428" y="1518" textLength="191" lengthAdjust="spacing">EDA 167</text>
<rect class="box" x="1651" y="1468" width="1100" height="71"/>
<text class="bt" x="1686" y="1526"><tspan class="r">4 y</tspan> UW Armenia Gaitan 14/06/22 Hospital 1 day H</text></g>
<g id="n-eda013"><text class="leaf" x="1428" y="1609" textLength="191" lengthAdjust="spacing">EDA 013</text>
<rect class="box" x="1658" y="1556" width="1077" height="66"/>
<text class="bt" x="1692" y="1609"><tspan class="r">4 y</tspan> UW Montenegro <tspan class="b">10/03/22 No hospitalized DC</tspan></text></g>
<g id="n-eda136"><text class="leaf" x="1428" y="1701" textLength="191" lengthAdjust="spacing">EDA 136</text>
<rect class="box" x="1658" y="1651" width="1345" height="72"/>
<text class="bt" x="1692" y="1710"><tspan class="r">2 y</tspan> BW Armenia <tspan class="b">La Cecilia 27/05/22 No hospitalized DC</tspan></text></g>
<g id="n-eda120"><text class="leaf" x="1428" y="1792" textLength="191" lengthAdjust="spacing">EDA 120</text>
<rect class="box" x="1658" y="1736" width="1508" height="68"/>
<text class="bt" x="1692" y="1791"><tspan class="r b">3 m</tspan> UW Armenia <tspan class="b">La Fachada 24/05/22 Hospital 14 days (Malnutrution) H</tspan></text></g>
<g id="n-linA"><text class="leaf" x="1428" y="1884" textLength="186" lengthAdjust="spacing">Linage A</text></g>
<g id="n-eda067"><text class="leaf" x="1428" y="1975" textLength="191" lengthAdjust="spacing">EDA 067</text>
<rect class="box" x="1658" y="1928" width="1100" height="66"/>
<text class="bt" x="1692" y="1981"><tspan class="r">1 y</tspan> UW Armenia Centro15/04/22 Hospital 5 days H</text></g>
<g id="n-eda143"><text class="leaf" x="1428" y="2066" textLength="191" lengthAdjust="spacing">EDA 143</text>
<rect class="box" x="1658" y="2016" width="1160" height="76"/>
<text class="bt" x="1692" y="2078"><tspan class="r">2 y</tspan> UW Armenia La Virginia 01/06/22 Hospital 1 day DC</text></g>
<g id="n-linB"><text class="leaf" x="1428" y="2158" textLength="186" lengthAdjust="spacing">Linage B</text></g>
<g id="n-eda036"><text class="leaf" x="1428" y="2249" textLength="191" lengthAdjust="spacing">EDA 036</text>
<rect class="box" x="1652" y="2195" width="1101" height="68"/>
<text class="bt" x="1686" y="2250"><tspan class="r">2 y</tspan> UW Armenia La Unión 25/03/22 Hospital 4 days DC</text></g>
<g id="n-linC"><text class="leaf" x="1428" y="2341" textLength="186" lengthAdjust="spacing">Linage C</text></g>
<g id="n-outgroup"><text class="leaf" x="1428" y="2431" textLength="682" lengthAdjust="spacing">Eimeria falciformis MW090938.1</text>
<text x="2128" y="2430" font-size="42" font-weight="bold" fill="#111">Outgroup</text></g>

<g id="lineages">
<path class="brace" d="M3150 915C3185 915 3200 925 3200 955L3200 1365C3200 1390 3215 1403 3238 1403C3215 1403 3200 1416 3200 1441L3200 1852C3200 1882 3185 1892 3150 1892"/>
<text class="lin" x="3284" y="1425">Lineage A</text>
<path class="brace" d="M3150 1945C3185 1945 3198 1955 3198 1980L3198 2030C3198 2048 3210 2058 3228 2058C3210 2058 3198 2068 3198 2086L3198 2140C3198 2165 3185 2172 3150 2172"/>
<text class="lin" x="3272" y="2072">Lineage B</text>
<path class="brace" d="M3152 2195C3185 2195 3198 2205 3198 2230L3198 2262C3198 2280 3210 2290 3228 2290C3210 2290 3198 2300 3198 2318L3198 2342C3198 2362 3185 2368 3152 2368"/>
<text class="lin" x="3264" y="2304">Lineage C</text>
</g>
</svg>
